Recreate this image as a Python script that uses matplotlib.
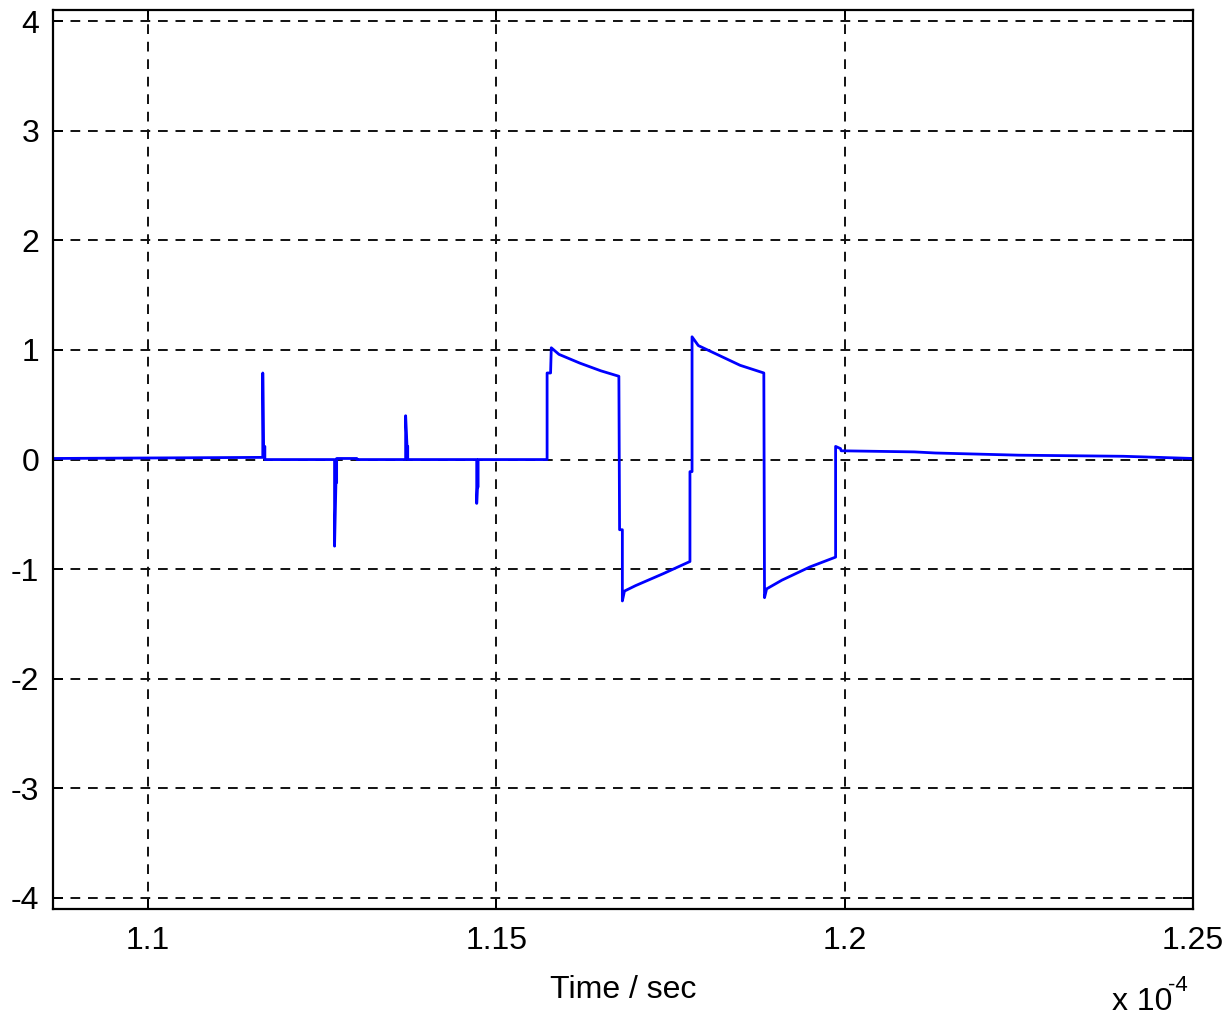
import numpy as np
import matplotlib
matplotlib.use("Agg")
import matplotlib.pyplot as plt

plt.rcParams['font.family'] = ['Liberation Sans', 'DejaVu Sans']
plt.rcParams['axes.unicode_minus'] = False

# time in units of 1e-4 s, signal value
time_e4 = [1.0864, 1.1165, 1.1165, 1.1166, 1.1166, 1.1168, 1.1168,
           1.1268, 1.1268, 1.1270, 1.1271, 1.1271, 1.1300, 1.1300,
           1.1370, 1.1370, 1.1372, 1.1373, 1.1373,
           1.1472, 1.1472, 1.1473, 1.1474, 1.1474,
           1.1573, 1.1573, 1.1578, 1.1579,
           1.1590, 1.1620, 1.1650, 1.1676,
           1.1677, 1.1681, 1.1681, 1.1684,
           1.1700, 1.1740, 1.1778,
           1.1778, 1.1781, 1.1781,
           1.1790, 1.1820, 1.1850, 1.1884,
           1.1885, 1.1888,
           1.1910, 1.1950, 1.1987,
           1.1987, 1.1994, 1.1995, 1.2100, 1.2130, 1.2250, 1.2400, 1.2500]
signal = [0.01, 0.02, 0.79, 0.12, 0.12, 0.12, 0.0,
          0.0, -0.79, -0.21, -0.21, 0.01, 0.01, 0.0,
          0.0, 0.40, 0.12, 0.12, 0.0,
          0.0, -0.40, -0.25, -0.25, 0.0,
          0.0, 0.79, 0.79, 1.02,
          0.96, 0.88, 0.81, 0.76,
          -0.64, -0.64, -1.29, -1.20,
          -1.15, -1.04, -0.93,
          -0.11, -0.11, 1.12,
          1.04, 0.95, 0.86, 0.79,
          -1.26, -1.18,
          -1.10, -0.98, -0.89,
          0.12, 0.10, 0.08, 0.07, 0.06, 0.04, 0.03, 0.01]

xticks = [1.1, 1.15, 1.2, 1.25]
xtick_labels = ["1.1", "1.15", "1.2", "1.25"]
yticks = [-4, -3, -2, -1, 0, 1, 2, 3, 4]

fig = plt.figure(figsize=(12.3, 10.19), dpi=100)
ax = fig.add_axes([0.0431, 0.108, 0.9269, 0.882])

ax.plot(time_e4, signal, color='#0000ff', linewidth=2.0)

ax.set_xlim(1.0864, 1.25)
ax.set_ylim(-4.1, 4.1)
ax.set_xticks(xticks)
ax.set_xticklabels(xtick_labels)
ax.set_yticks(yticks)
ax.set_yticklabels([str(v) for v in yticks])

ax.grid(True, color='#111111', linestyle=(0, (5, 4)), linewidth=1.4)
ax.tick_params(direction='in', length=7, width=1.4, labelsize=23,
               top=True, right=True)
ax.tick_params(axis='x', pad=12)
ax.tick_params(axis='y', pad=10)
for sp in ax.spines.values():
    sp.set_linewidth(1.6)

ax.set_xlabel("Time / sec", fontsize=23, labelpad=14)
# exponent label, drawn as MATLAB does
fig.text(1142 / 1230, 0.009, "x 10", fontsize=23, ha='center', va='baseline')
fig.text(1168 / 1230, 0.027, "-4", fontsize=16, ha='left', va='baseline')

fig.savefig("out.png", dpi=100)
